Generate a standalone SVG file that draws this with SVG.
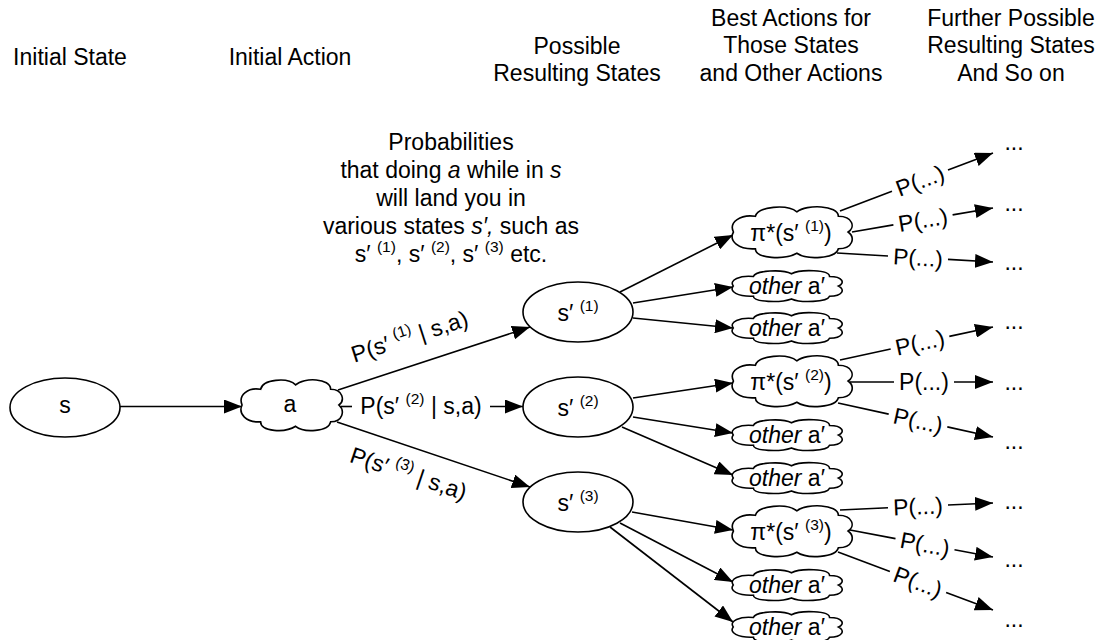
<svg xmlns="http://www.w3.org/2000/svg" xmlns:xlink="http://www.w3.org/1999/xlink" width="1107" height="640" viewBox="0 0 1107 640">
<style>
text{font-family:"Liberation Sans",Arial,Helvetica,sans-serif;font-size:23px;fill:#000}
.c{text-anchor:middle}
.sup{font-size:15.5px}
.it{font-style:italic}
.shape{fill:#fff;stroke:#000;stroke-width:1.6}
.ln{fill:none;stroke:#000;stroke-width:1.6}
.arr{marker-end:url(#ah)}
</style>
<defs>
<marker id="ah" markerUnits="userSpaceOnUse" markerWidth="19" markerHeight="14" refX="18" refY="7" orient="auto">
<path d="M0,0 L18,7 L0,14 Z" fill="#000"/>
</marker>
<path id="cloud" vector-effect="non-scaling-stroke" d="M 2,50 C -2,32 8,18 20,22 C 22,4 46,0 54,14 C 62,0 88,2 88,22 C 100,22 102,42 96,50 C 102,60 100,80 88,80 C 86,98 62,100 54,88 C 44,100 20,98 20,80 C 6,82 -2,66 2,50 Z"/>
</defs>
<rect width="1107" height="640" fill="#fff"/>

<g id="headers">
<text class="c" x="70" y="65">Initial State</text>
<text class="c" x="290" y="65">Initial Action</text>
<text class="c" x="577" y="54">Possible</text>
<text class="c" x="577" y="81">Resulting States</text>
<text class="c" x="791" y="26">Best Actions for</text>
<text class="c" x="791" y="53">Those States</text>
<text class="c" x="791" y="81">and Other Actions</text>
<text class="c" x="1011" y="26">Further Possible</text>
<text class="c" x="1011" y="53">Resulting States</text>
<text class="c" x="1011" y="81">And So on</text>
</g>

<g id="note">
<text class="c" x="451" y="150">Probabilities</text>
<text class="c" x="451" y="178">that doing <tspan class="it">a</tspan> while in <tspan class="it">s</tspan></text>
<text class="c" x="451" y="206">will land you in</text>
<text class="c" x="451" y="234">various states <tspan class="it">s′,</tspan> such as</text>
<text class="c" x="451" y="262">s′ <tspan class="sup" dy="-10">(1)</tspan><tspan dy="10">, s′ </tspan><tspan class="sup" dy="-10">(2)</tspan><tspan dy="10">, s′ </tspan><tspan class="sup" dy="-10">(3)</tspan><tspan dy="10"> etc.</tspan></text>
</g>

<g id="connectors">
<line class="ln arr" x1="120" y1="406.5" x2="242" y2="406.5"/>
<line class="ln arr" x1="338" y1="390" x2="530" y2="327"/>
<line class="ln" x1="341" y1="406.5" x2="352" y2="406.5"/>
<line class="ln arr" x1="490" y1="406.5" x2="523" y2="406.5"/>
<line class="ln arr" x1="337" y1="422" x2="530" y2="487"/>

<line class="ln arr" x1="620" y1="292" x2="733" y2="235"/>
<line class="ln arr" x1="633" y1="303" x2="733" y2="287"/>
<line class="ln arr" x1="633" y1="318" x2="733" y2="328"/>
<line class="ln arr" x1="633" y1="398" x2="733" y2="383"/>
<line class="ln arr" x1="633" y1="417" x2="733" y2="433"/>
<line class="ln arr" x1="622" y1="427" x2="733" y2="475"/>
<line class="ln arr" x1="632" y1="512" x2="733" y2="530"/>
<line class="ln arr" x1="620" y1="523" x2="733" y2="582"/>
<line class="ln arr" x1="610" y1="527" x2="733" y2="622"/>

<line class="ln" x1="840" y1="211" x2="892" y2="191.3"/>
<line class="ln arr" x1="948" y1="170.1" x2="993" y2="153"/>
<line class="ln" x1="852" y1="232" x2="893.4" y2="224.9"/>
<line class="ln arr" x1="952.6" y1="214.9" x2="993" y2="208"/>
<line class="ln" x1="837" y1="253" x2="888" y2="256"/>
<line class="ln arr" x1="948" y1="259.4" x2="993" y2="262"/>

<line class="ln" x1="840" y1="360" x2="890.7" y2="349"/>
<line class="ln arr" x1="949.3" y1="336.4" x2="993" y2="327"/>
<line class="ln" x1="850" y1="382" x2="894" y2="382"/>
<line class="ln arr" x1="954" y1="382" x2="993" y2="382"/>
<line class="ln" x1="838" y1="403" x2="888.7" y2="414.1"/>
<line class="ln arr" x1="947.3" y1="426.9" x2="993" y2="437"/>

<line class="ln" x1="840" y1="510" x2="888" y2="507.8"/>
<line class="ln arr" x1="948" y1="505" x2="993" y2="503"/>
<line class="ln" x1="850" y1="530" x2="895.5" y2="538.6"/>
<line class="ln arr" x1="954.5" y1="549.8" x2="993" y2="557"/>
<line class="ln" x1="838" y1="552" x2="889.9" y2="571.4"/>
<line class="ln arr" x1="946.1" y1="592.4" x2="993" y2="610"/>

<text class="c" transform="translate(412,344) rotate(-17.9)">P(s′ <tspan class="sup" dy="-10">(1)</tspan><tspan dy="10"> | s,a)</tspan></text>
<text class="c" x="421" y="414">P(s′ <tspan class="sup" dy="-10">(2)</tspan><tspan dy="10"> | s,a)</tspan></text>
<text class="c" transform="translate(406,481) rotate(18.6)">P(s′ <tspan class="sup" dy="-10">(3)</tspan><tspan dy="10"> | s,a)</tspan></text>

<text class="c" transform="translate(920,180.7) rotate(-20.8) translate(0,8)">P(...)</text>
<text class="c" transform="translate(923,219.9) rotate(-9.7) translate(0,8)">P(...)</text>
<text class="c" transform="translate(918,257.7) rotate(3.3) translate(0,8)">P(...)</text>
<text class="c" transform="translate(920,342.7) rotate(-12.2) translate(0,8)">P(...)</text>
<text class="c" transform="translate(924,382) translate(0,8)">P(...)</text>
<text class="c" transform="translate(918,420.5) rotate(12.4) translate(0,8)">P(...)</text>
<text class="c" transform="translate(918,506.4) rotate(-2.6) translate(0,8)">P(...)</text>
<text class="c" transform="translate(925,544.2) rotate(10.7) translate(0,8)">P(...)</text>
<text class="c" transform="translate(918,581.9) rotate(20.5) translate(0,8)">P(...)</text>
</g>

<g id="node-s">
<ellipse class="shape" cx="65" cy="407.5" rx="55" ry="29.5"/>
<text class="c" x="65" y="413">s</text>
</g>
<g id="node-a">
<use xlink:href="#cloud" class="shape" transform="translate(240,377) scale(1.03,0.56)"/>
<text class="c" x="290" y="412">a</text>
</g>

<g id="node-s1">
<ellipse class="shape" cx="578" cy="312" rx="55" ry="30"/>
<text class="c" x="578" y="321">s′ <tspan class="sup" dy="-10">(1)</tspan></text>
</g>
<g id="node-s2">
<ellipse class="shape" cx="578" cy="407" rx="55" ry="30"/>
<text class="c" x="578" y="416">s′ <tspan class="sup" dy="-10">(2)</tspan></text>
</g>
<g id="node-s3">
<ellipse class="shape" cx="578" cy="502" rx="55" ry="30"/>
<text class="c" x="578" y="511">s′ <tspan class="sup" dy="-10">(3)</tspan></text>
</g>

<g id="node-pi1">
<use xlink:href="#cloud" class="shape" transform="translate(731,204) scale(1.22,0.56)"/>
<text class="c" x="791" y="241">π*(s′ <tspan class="sup" dy="-10">(1)</tspan><tspan dy="10">)</tspan></text>
</g>
<g id="node-o1">
<use xlink:href="#cloud" class="shape" transform="translate(731,269) scale(1.12,0.34)"/>
<text class="c" x="787" y="294"><tspan class="it">other</tspan> a′</text>
</g>
<g id="node-o2">
<use xlink:href="#cloud" class="shape" transform="translate(731,311) scale(1.12,0.34)"/>
<text class="c" x="787" y="336"><tspan class="it">other</tspan> a′</text>
</g>
<g id="node-pi2">
<use xlink:href="#cloud" class="shape" transform="translate(731,353) scale(1.22,0.56)"/>
<text class="c" x="791" y="390">π*(s′ <tspan class="sup" dy="-10">(2)</tspan><tspan dy="10">)</tspan></text>
</g>
<g id="node-o3">
<use xlink:href="#cloud" class="shape" transform="translate(731,418) scale(1.12,0.34)"/>
<text class="c" x="787" y="443"><tspan class="it">other</tspan> a′</text>
</g>
<g id="node-o4">
<use xlink:href="#cloud" class="shape" transform="translate(731,461) scale(1.12,0.34)"/>
<text class="c" x="787" y="486"><tspan class="it">other</tspan> a′</text>
</g>
<g id="node-pi3">
<use xlink:href="#cloud" class="shape" transform="translate(731,503) scale(1.22,0.56)"/>
<text class="c" x="791" y="540">π*(s′ <tspan class="sup" dy="-10">(3)</tspan><tspan dy="10">)</tspan></text>
</g>
<g id="node-o5">
<use xlink:href="#cloud" class="shape" transform="translate(731,568) scale(1.12,0.34)"/>
<text class="c" x="787" y="593"><tspan class="it">other</tspan> a′</text>
</g>
<g id="node-o6">
<use xlink:href="#cloud" class="shape" transform="translate(731,610) scale(1.12,0.34)"/>
<text class="c" x="787" y="635"><tspan class="it">other</tspan> a′</text>
</g>

<g id="ellipses-more">
<text class="c" x="1014" y="150">...</text>
<text class="c" x="1014" y="211">...</text>
<text class="c" x="1014" y="270">...</text>
<text class="c" x="1014" y="329">...</text>
<text class="c" x="1014" y="390">...</text>
<text class="c" x="1014" y="449">...</text>
<text class="c" x="1014" y="509">...</text>
<text class="c" x="1014" y="567">...</text>
<text class="c" x="1014" y="627">...</text>
</g>
</svg>
